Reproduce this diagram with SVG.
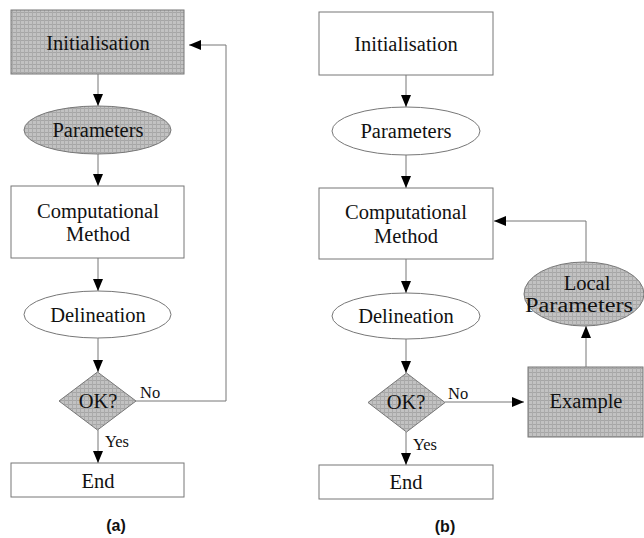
<svg xmlns="http://www.w3.org/2000/svg" width="644" height="538" viewBox="0 0 644 538">
<style>
.t{font-family:"Liberation Serif","Times New Roman",serif;font-size:20.5px;fill:#111;text-anchor:middle}
.s{font-family:"Liberation Serif","Times New Roman",serif;font-size:16.5px;fill:#111}
.cap{font-family:"Liberation Sans",Arial,sans-serif;font-size:16px;font-weight:bold;fill:#111;text-anchor:middle}
.w{fill:#fff;stroke:#777;stroke-width:1}
.g{fill:url(#tex);stroke:#777;stroke-width:1}
.c{fill:none;stroke:#777;stroke-width:1}
</style>
<defs>
<pattern id="tex" width="4" height="4" patternUnits="userSpaceOnUse">
<rect width="4" height="4" fill="#c2c2c2"/>
<rect width="4" height="1" fill="#a6a6a6"/>
<rect width="1" height="4" fill="#ababab"/>
</pattern>
<marker id="ah" markerUnits="userSpaceOnUse" markerWidth="13" markerHeight="11" refX="12" refY="5" orient="auto">
<path d="M0,0 L12,5 L0,10 z" fill="#000"/>
</marker>
</defs>

<g id="connectors">
<line class="c" x1="98" y1="74" x2="98" y2="106" marker-end="url(#ah)"/>
<line class="c" x1="98" y1="154" x2="98" y2="186" marker-end="url(#ah)"/>
<line class="c" x1="98" y1="258" x2="98" y2="291" marker-end="url(#ah)"/>
<line class="c" x1="98" y1="338" x2="98" y2="372" marker-end="url(#ah)"/>
<line class="c" x1="98" y1="430" x2="98" y2="463" marker-end="url(#ah)"/>
<polyline class="c" points="136,401 226,401 226,45 189,45" marker-end="url(#ah)"/>
<line class="c" x1="406" y1="75" x2="406" y2="107" marker-end="url(#ah)"/>
<line class="c" x1="406" y1="155" x2="406" y2="188" marker-end="url(#ah)"/>
<line class="c" x1="406" y1="259" x2="406" y2="293" marker-end="url(#ah)"/>
<line class="c" x1="406" y1="339" x2="406" y2="373" marker-end="url(#ah)"/>
<line class="c" x1="406" y1="432" x2="406" y2="465" marker-end="url(#ah)"/>
<line class="c" x1="445" y1="402" x2="524" y2="402" marker-end="url(#ah)"/>
<line class="c" x1="586" y1="367" x2="586" y2="326" marker-end="url(#ah)"/>
<polyline class="c" points="586,262 586,221 494,221" marker-end="url(#ah)"/>
<text class="s" x="140" y="398">No</text>
<text class="s" x="105" y="447">Yes</text>
<text class="s" x="448" y="399">No</text>
<text class="s" x="413" y="450">Yes</text>
</g>

<g id="a-init"><rect class="g" x="11" y="10" width="173" height="64"/><text class="t" x="98" y="50">Initialisation</text></g>
<g id="a-params"><ellipse class="g" cx="97.5" cy="130" rx="73.5" ry="24"/><text class="t" x="98" y="137">Parameters</text></g>
<g id="a-method"><rect class="w" x="11" y="186" width="173" height="72"/><text class="t" x="98" y="218">Computational</text><text class="t" x="98" y="241">Method</text></g>
<g id="a-delin"><ellipse class="w" cx="97.5" cy="314.5" rx="73.5" ry="23.5"/><text class="t" x="98" y="322">Delineation</text></g>
<g id="a-ok"><polygon class="g" points="97.5,372 136,401 97.5,430 59,401"/><text class="t" x="98" y="408">OK?</text></g>
<g id="a-end"><rect class="w" x="11" y="463" width="173" height="34"/><text class="t" x="98" y="488">End</text></g>
<g id="a-label"><text class="cap" x="116" y="531">(a)</text></g>

<g id="b-init"><rect class="w" x="319" y="12" width="174" height="63"/><text class="t" x="406" y="51">Initialisation</text></g>
<g id="b-params"><ellipse class="w" cx="406" cy="131" rx="74" ry="24"/><text class="t" x="406" y="138">Parameters</text></g>
<g id="b-method"><rect class="w" x="319" y="188" width="174" height="71"/><text class="t" x="406" y="219">Computational</text><text class="t" x="406" y="243">Method</text></g>
<g id="b-delin"><ellipse class="w" cx="406" cy="316" rx="74" ry="23"/><text class="t" x="406" y="323">Delineation</text></g>
<g id="b-ok"><polygon class="g" points="406.5,373 445,402.5 406.5,432 368,402.5"/><text class="t" x="406" y="409">OK?</text></g>
<g id="b-end"><rect class="w" x="319" y="465" width="174" height="34"/><text class="t" x="406" y="489">End</text></g>
<g id="b-local"><ellipse class="g" cx="584" cy="294" rx="60" ry="32"/><text class="t" x="587" y="290">Local</text><text class="t" x="579" y="312" textLength="108" lengthAdjust="spacingAndGlyphs">Parameters</text></g>
<g id="b-example"><rect class="g" x="528" y="367" width="115" height="70"/><text class="t" x="586" y="408">Example</text></g>
<g id="b-label"><text class="cap" x="445" y="532">(b)</text></g>
</svg>
